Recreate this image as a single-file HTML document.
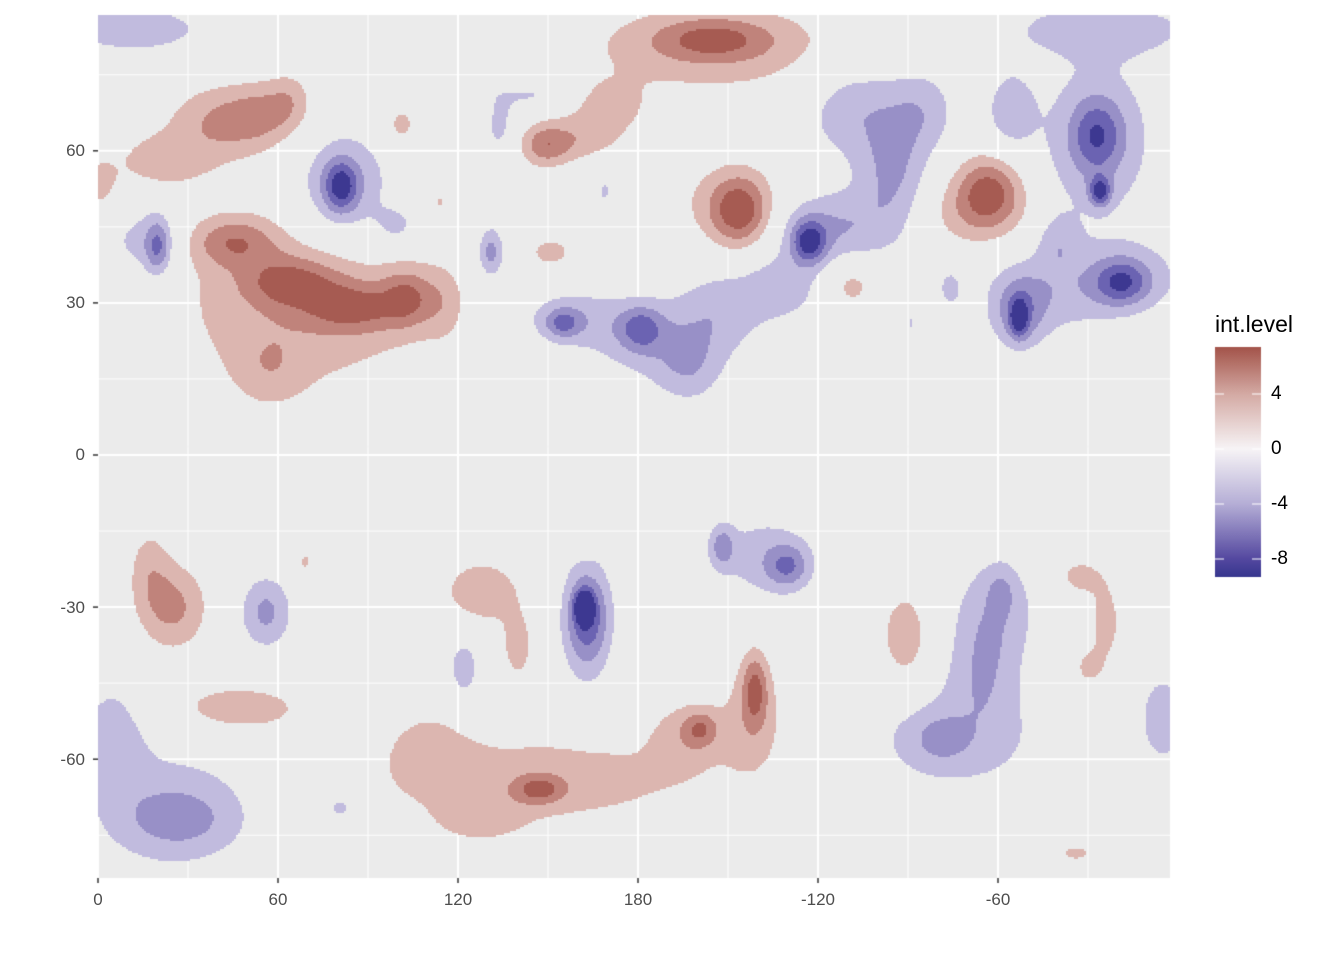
<!DOCTYPE html>
<html><head><meta charset="utf-8">
<style>
body{margin:0;background:#fff;width:1344px;height:960px;overflow:hidden;font-family:"Liberation Sans",sans-serif}
#wrap{position:relative;width:1344px;height:960px}
canvas{position:absolute;left:0;top:0}
.t{position:absolute;font-size:17px;color:#4d4d4d;line-height:20px}
.yl{text-align:right;width:60px;left:25px}
.xl{width:80px;text-align:center;top:890px}
.lg{position:absolute;font-size:19px;color:#000;left:1271px;line-height:22px}
</style></head>
<body><div id="wrap">
<canvas id="c" width="1344" height="960"></canvas>
<div class="t yl" style="top:141px">60</div>
<div class="t yl" style="top:293px">30</div>
<div class="t yl" style="top:445px">0</div>
<div class="t yl" style="top:598px">-30</div>
<div class="t yl" style="top:750px">-60</div>
<div class="t xl" style="left:58px">0</div>
<div class="t xl" style="left:238px">60</div>
<div class="t xl" style="left:418px">120</div>
<div class="t xl" style="left:598px">180</div>
<div class="t xl" style="left:778px">-120</div>
<div class="t xl" style="left:958px">-60</div>
<div style="position:absolute;left:1215px;top:311px;font-size:23px;color:#000">int.level</div>
<div class="lg" style="top:383px">4</div>
<div class="lg" style="top:438px">0</div>
<div class="lg" style="top:493px">-4</div>
<div class="lg" style="top:548px">-8</div>
</div>
<script>
// positive blobs (46 entries each)
const posLon=[67,45,64,85,103,57,45,22,0,55,101,149,170,160,205,205,214,208,297,290,151,251,358,114,25,17,69,162,128,140,47,219,218,201,195,147,150,110,269,327,336,326,64,330,127,115];
const posLat=[29,42,34,29,31,17,66,58,53,68,65,61,68,62,82,80,48,50,52,47,40,33.5,52,50,-30,-22,-21,-18,-27,-38,-50,-46,-52,-54,-55,-66,-64,-58,-36,-24,-33,-78.5,70,-42,-72,30];
const posAmp=[3.3,4.6,4.6,4.6,4.5,2,4.8,3,2.5,1.5,2.8,4.5,2.4,2.5,4.5,3,6.5,2,6.5,2.2,2.6,2.8,2.6,2.2,4.5,2.5,2.3,2.3,3.3,2.8,3,5,3,4,2.5,4.5,3,2.2,3.3,2.6,2.8,2.5,2.5,2.4,2.5,2.2];
const posSLon=[32,10,11,11,6,8,14,12,5,6,4,6,10,10,14,35,7,14,8,14,6,6,3,1.5,8,5,2,2.5,10,4,18,3,8,4,8,6,40,10,6,6,4,5,5,4,10,5];
const posSLat=[13,3.5,3.5,3.5,4,5,5,4,4,4,3,3,4,3,3,7,5,6,5,5,2.5,3.5,3,1,6,6,2,1.5,5,5,4,5,8,2.5,5,2,7,6,7,3,6,1.5,4,3,3,5];
// negative blobs (53 entries each)
const negLon=[81,82,20,15,12,131,134,145,169,183,181,157,155,207,237,228,245,265,252,275,335,333,333,334,307,307,318,341,345,284,271,162,163,163,56,122,208,230,222,301,300,295,281,285,27,25,5,81,355,100,197,304,320];
const negLat=[53,53,41,42,84,40,65,71,52,23,25,27,26,28,42,33,45,55,68,68,84,63,62,52,27,28,32,34,35,33,26,-30,-32,-33,-31,-42,-18,-22,-20,-27,-30,-42,-56,-56,-72,-70,-55,-69.5,-52,45,17,68,42];
const negAmp=[-6.5,-4,-5,-3,-3,-5,-2.6,-2.4,-2.4,-3,-4.5,-3,-4.2,-3,-7,-3,-4,-4,-3.5,-3,-3,-5,-3.5,-7,-6,-4.5,-3,-5,-3,-2.5,-2.2,-9,-5,-3,-4.5,-3,-4,-4.5,-3,-2.2,-3,-3,-2.5,-3,-2.4,-3.2,-3,-2.7,-3.2,-2.5,-3,-3,-2.5];
const negSLon=[4,12,3,9,20,3,4,8,2,14,5,12,4,10,4,10,14,8,12,8,25,6,14,2.5,2,6,16,6,12,3,1.2,2,5,6,6,4,3,5,12,3,10,8,6,22,12,20,8,5,6,6,8,6,5];
const negSLat=[3.5,8,4,5,4,3.5,5,2,2,6,3,4,2,6,3,5,5,8,7,6,4,5,12,2,2.5,5,6,3,5,3,1.5,2,6,10,5,5,3,3,6,3,8,8,3,8,4,9,8,2,7,3,5,6,4];
const breaks=[-10,-8,-6,-4,-2,2,4,6,8];
const fills=["#3d3891","#6b63b2","#9890c7","#c1bbde",null,"#dcb6b0","#c0837b","#a65b52"];
const xTicks=[0,60,120,180,240,300], yTicks=[-60,-30,0,30,60];
const legendTicks=[4,0,-4,-8];

const L=98,R=1170,T=15,B=878;
const X=lon=>98+lon*3, Y=lat=>455-lat*5.07;
const cv=document.getElementById('c'),ctx=cv.getContext('2d');
ctx.fillStyle='#ebebeb';ctx.fillRect(L,T,R-L,B-T);
ctx.strokeStyle='#fff';
ctx.lineWidth=1;
for(let v=30;v<360;v+=60){const x=X(v);if(x<R){ctx.beginPath();ctx.moveTo(x,T);ctx.lineTo(x,B);ctx.stroke();}}
for(let v=-75;v<=75;v+=30){const y=Y(v);ctx.beginPath();ctx.moveTo(L,y);ctx.lineTo(R,y);ctx.stroke();}
ctx.lineWidth=2;
xTicks.forEach(v=>{const x=X(v);ctx.beginPath();ctx.moveTo(x,T);ctx.lineTo(x,B);ctx.stroke();});
yTicks.forEach(v=>{const y=Y(v);ctx.beginPath();ctx.moveTo(L,y);ctx.lineTo(R,y);ctx.stroke();});
function field(lon,lat){
  let v=0;
  for(let i=0;i<posAmp.length;i++){const dx=(lon-posLon[i])/posSLon[i],dy=(lat-posLat[i])/posSLat[i];const d=dx*dx+dy*dy;if(d<25)v+=posAmp[i]*Math.exp(-d/2);}
  for(let i=0;i<negAmp.length;i++){const dx=(lon-negLon[i])/negSLon[i],dy=(lat-negLat[i])/negSLat[i];const d=dx*dx+dy*dy;if(d<25)v+=negAmp[i]*Math.exp(-d/2);}
  return v;
}
const st=2;
for(let py=T;py<B;py+=st){
  const lat=(455-(py+1))/5.07;
  for(let px=L;px<R;px+=st){
    const lon=(px+1-98)/3;
    const v=field(lon,lat);
    let k=-1;
    if(v<breaks[0])k=0;else if(v>=breaks[breaks.length-1])k=fills.length-1;
    else for(let j=0;j<breaks.length-1;j++){if(v>=breaks[j]&&v<breaks[j+1]){k=j;break;}}
    if(k>=0&&fills[k]){ctx.fillStyle=fills[k];ctx.fillRect(px,py,st,st);}
  }
}
ctx.strokeStyle='#333';ctx.lineWidth=1.5;
xTicks.forEach(v=>{const x=X(v);ctx.beginPath();ctx.moveTo(x,B);ctx.lineTo(x,B+5);ctx.stroke();});
yTicks.forEach(v=>{const y=Y(v);ctx.beginPath();ctx.moveTo(L-5,y);ctx.lineTo(L,y);ctx.stroke();});
const lt=347,lb=577,lx=1215,lw=46;
const LY=val=>449-val*13.75;
const g=ctx.createLinearGradient(0,lt,0,lb);
const stops=[[7.35,"#a4554b"],[4,"#d4aaa4"],[0,"#f7f4f6"],[-4,"#b5aed6"],[-8,"#5448a0"],[-9.4,"#36368e"]];
stops.forEach(s=>g.addColorStop(Math.min(1,Math.max(0,(LY(s[0])-lt)/(lb-lt))),s[1]));
ctx.fillStyle=g;ctx.fillRect(lx,lt,lw,lb-lt);
ctx.strokeStyle='#fff';ctx.lineWidth=1;
legendTicks.forEach(v=>{const y=LY(v);ctx.beginPath();ctx.moveTo(lx,y);ctx.lineTo(lx+9,y);ctx.moveTo(lx+lw-9,y);ctx.lineTo(lx+lw,y);ctx.stroke();});
</script>
</body></html>
